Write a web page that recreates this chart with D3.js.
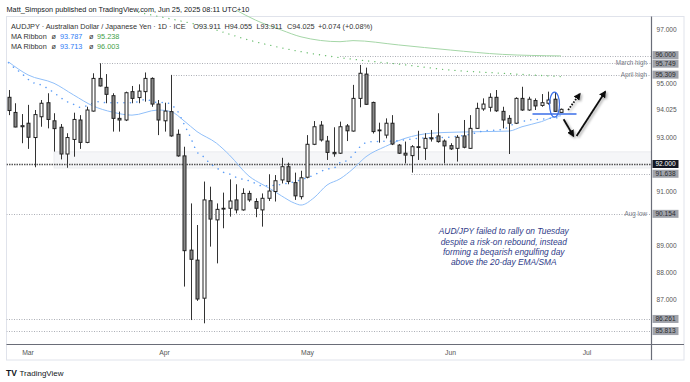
<!DOCTYPE html>
<html><head><meta charset="utf-8">
<script src="https://cdn.jsdelivr.net/npm/d3@7"></script>
<style>html,body{margin:0;padding:0;background:#fff;} svg{display:block;font-family:"Liberation Sans",Arial,sans-serif;}</style>
</head><body><svg id="c" width="690" height="382"></svg>
<script>
// ---------- DATA ----------
const dates = ["2025-02-26","2025-02-27","2025-02-28",
"2025-03-03","2025-03-04","2025-03-05","2025-03-06","2025-03-07","2025-03-10","2025-03-11","2025-03-12","2025-03-13","2025-03-14","2025-03-17","2025-03-18","2025-03-19","2025-03-20","2025-03-21","2025-03-24","2025-03-25","2025-03-26","2025-03-27","2025-03-28","2025-03-31",
"2025-04-01","2025-04-02","2025-04-03","2025-04-04","2025-04-07","2025-04-08","2025-04-09","2025-04-10","2025-04-11","2025-04-14","2025-04-15","2025-04-16","2025-04-17","2025-04-18","2025-04-21","2025-04-22","2025-04-23","2025-04-24","2025-04-25","2025-04-28","2025-04-29","2025-04-30",
"2025-05-01","2025-05-02","2025-05-05","2025-05-06","2025-05-07","2025-05-08","2025-05-09","2025-05-12","2025-05-13","2025-05-14","2025-05-15","2025-05-16","2025-05-19","2025-05-20","2025-05-21","2025-05-22","2025-05-23","2025-05-26","2025-05-27","2025-05-28","2025-05-29","2025-05-30",
"2025-06-02","2025-06-03","2025-06-04","2025-06-05","2025-06-06","2025-06-09","2025-06-10","2025-06-11","2025-06-12","2025-06-13","2025-06-16","2025-06-17","2025-06-18","2025-06-19","2025-06-20","2025-06-23","2025-06-24","2025-06-25"];
const open  = [94.47,93.91,93.38, 93.51,92.98,93.75,94.27,93.60,93.36,92.37,92.91,93.63,92.80,93.96,95.17,94.84,94.53,93.69,93.63,94.68,94.46,94.68,95.17,94.22,
93.60,93.94,93.10,92.30,88.81,88.44,87.03,90.64,89.93,90.36,90.36,90.67,90.30,90.91,90.61,90.30,90.73,90.98,91.41,91.90,91.31,90.79,
91.51,92.73,93.44,92.85,92.43,92.40,93.41,93.22,94.43,95.33,94.28,93.26,93.07,93.51,92.70,92.40,92.31,92.64,92.58,92.97,93.04,92.85,
92.68,92.58,93.04,92.58,93.32,94.04,94.10,94.47,93.95,93.69,93.51,94.43,94.00,94.35,94.17,94.25,94.40,93.911];
const high  = [94.74,94.25,93.85, 94.19,94.00,94.37,94.62,93.88,93.48,93.14,93.90,93.81,94.12,95.36,95.73,95.33,94.62,93.94,94.68,94.89,94.95,95.39,95.21,94.37,
94.27,95.30,93.28,92.64,90.54,89.74,91.35,91.16,90.54,90.94,91.43,91.25,91.10,91.01,90.73,90.91,91.62,91.59,92.23,92.05,91.68,91.75,
93.07,93.59,93.59,93.04,93.36,93.57,93.48,94.93,95.67,95.57,94.31,93.53,93.69,93.81,92.74,92.83,92.70,93.23,93.14,93.26,93.88,92.91,
92.77,93.07,93.63,93.81,94.27,94.43,94.62,94.74,94.12,93.81,94.47,94.86,94.49,94.43,94.59,94.68,94.64,94.055];
const low   = [93.81,93.36,92.77, 92.56,91.88,93.38,93.32,92.46,92.17,91.86,92.27,92.56,92.77,93.94,94.87,94.25,93.20,93.20,93.59,94.25,94.25,94.31,94.12,93.07,
93.20,93.01,92.27,87.46,86.22,86.93,86.10,88.94,88.32,89.62,90.05,90.17,90.27,90.60,90.03,89.68,90.63,90.61,91.28,91.25,90.67,90.69,
91.47,92.70,92.83,92.15,92.27,92.37,92.85,93.20,94.10,94.19,93.13,92.79,92.95,92.70,92.37,92.02,91.68,92.15,92.15,92.83,92.79,92.02,
92.52,92.09,92.58,92.56,93.30,93.97,93.94,93.93,93.32,92.37,93.48,93.97,93.97,94.00,94.12,94.20,93.93,93.911];
const close = [93.98,93.37,93.42, 92.99,93.83,94.25,93.65,93.31,92.37,92.98,93.65,92.80,94.00,95.17,94.89,94.58,93.69,93.63,94.64,94.43,94.70,95.17,94.22,93.63,
93.96,93.04,92.30,88.79,88.47,87.00,90.67,89.96,90.32,90.33,90.63,90.30,90.91,90.67,90.36,90.73,91.00,91.38,91.90,91.35,90.82,91.49,
92.73,93.38,92.89,92.43,92.38,93.38,93.23,94.43,95.36,94.21,93.20,93.23,93.51,92.74,92.40,92.33,92.64,92.62,92.95,92.93,92.83,92.67,
92.56,92.99,92.62,93.32,94.06,94.22,94.47,93.97,93.63,93.51,94.43,94.00,94.40,94.15,94.27,94.37,93.95,94.025];

// MA Ribbon 1 (fast, solid light blue) and its slow line (dotted green)
const ribbon1FastDates = ["2025-02-26","2025-03-03","2025-03-07","2025-03-12","2025-03-17","2025-03-20","2025-03-25","2025-03-31","2025-04-02","2025-04-04","2025-04-08","2025-04-11","2025-04-15","2025-04-18","2025-04-22","2025-04-23","2025-04-25","2025-04-29","2025-04-30","2025-05-02","2025-05-06","2025-05-08","2025-05-12","2025-05-14","2025-05-19","2025-05-22","2025-05-28","2025-06-03","2025-06-09","2025-06-13","2025-06-17","2025-06-20","2025-06-24","2025-06-25"];
const ribbon1FastValues = [95.78,95.30,94.99,94.56,94.15,93.92,93.81,94.00,93.94,93.60,93.20,92.77,92.33,91.55,91.25,91.12,90.82,90.55,90.48,90.75,91.22,91.45,91.82,92.27,92.65,92.95,93.14,93.18,93.20,93.22,93.38,93.57,93.75,93.787];
const ribbon1SlowDates = ["2025-03-26","2025-03-28","2025-04-09","2025-04-18","2025-04-30","2025-05-12","2025-05-21","2025-06-02","2025-06-12","2025-06-25"];
const ribbon1SlowValues = [97.62,97.52,97.10,96.59,96.16,95.88,95.70,95.48,95.36,95.238];
// MA Ribbon 2 (fast, dotted blue) and its slow line (solid light green)
const ribbon2FastDates = ["2025-02-26","2025-02-27","2025-02-28","2025-03-03","2025-03-04","2025-03-05","2025-03-06","2025-03-07","2025-03-10","2025-03-11","2025-03-12","2025-03-13","2025-03-18","2025-03-19","2025-03-25","2025-03-26","2025-03-27","2025-03-31","2025-04-01","2025-04-03","2025-04-04","2025-04-07","2025-04-08","2025-04-09","2025-04-10","2025-04-11","2025-04-14","2025-04-15","2025-04-16","2025-04-17","2025-04-18","2025-04-21","2025-04-22","2025-05-02","2025-05-05","2025-05-06","2025-05-07","2025-05-08","2025-05-09","2025-05-12","2025-05-13","2025-05-14","2025-05-15","2025-05-20","2025-05-26","2025-06-02","2025-06-05","2025-06-09","2025-06-12","2025-06-16","2025-06-17","2025-06-18","2025-06-20","2025-06-23","2025-06-25"];
const ribbon2FastValues = [95.75,95.54,95.36,95.14,94.99,94.93,94.80,94.64,94.46,94.31,94.21,94.10,94.31,94.27,94.27,94.31,94.39,94.28,94.28,93.96,93.48,92.99,92.45,92.27,92.02,91.86,91.70,91.63,91.51,91.44,91.38,91.28,91.19,91.59,91.72,91.81,91.84,92.05,92.12,92.33,92.62,92.79,92.83,92.85,92.95,93.00,93.10,93.22,93.28,93.51,93.57,93.63,93.66,93.69,93.713];
const ribbon2SlowDates = ["2025-04-16","2025-04-21","2025-04-25","2025-04-30","2025-05-08","2025-05-12","2025-05-21","2025-06-02","2025-06-12","2025-06-25"];
const ribbon2SlowValues = [97.70,97.33,96.96,96.71,96.53,96.57,96.41,96.22,96.06,96.003];

// Horizontal levels
const levelValues = [96.000,95.749,95.309,92.000,91.638,90.154,86.261,85.813];
const levelStartDates = ["2025-05-08","2025-03-18","2025-04-02",null,"2025-05-23",null,null,null];
const levelNames = ["","March high","April high","","","Aug low","",""];
const zoneTop = 92.45, zoneBottom = 91.85, zoneStartDate = "2025-03-07";

const priceTicks = [86,87,88,89,90,91,92,93,94,95,96,97];
const monthTickDates = ["2025-03-03","2025-04-01","2025-05-01","2025-06-02","2025-07-01"];
const monthTickLabels = ["Mar","Apr","May","Jun","Jul"];

const lastPrice = 94.025;
const noteLines = ["AUD/JPY failed to rally on Tuesday","despite a risk-on rebound, instead","forming a beqarish engulfing day","above the 20-day EMA/SMA"];

// ---------- SCALES ----------
const svg = d3.select("#c");
const parse = d3.timeParse("%Y-%m-%d");
const d0 = parse(dates[0]);
function tradingIndex(s){
  const d = parse(s);
  return d3.timeDay.range(d0, d).filter(t => t.getDay()!==0 && t.getDay()!==6).length;
}
const xi = d3.scaleLinear().domain([0, dates.length-1]).range([8.5, 561]);
const x = s => xi(tradingIndex(s));
const y = d3.scaleLinear().domain([86, 97]).range([326, 29]);

const plotL = 6.5, plotR = 651.5, plotT = 16.5, plotB = 344.5;

svg.append("defs").html(`
  <clipPath id="clip"><rect x="${plotL}" y="10" width="${plotR-plotL}" height="${plotB-10}"/></clipPath>
  <filter id="sh" x="-50%" y="-50%" width="200%" height="200%"><feDropShadow dx="1.5" dy="1.5" stdDeviation="1" flood-color="#000" flood-opacity="0.35"/></filter>
  <marker id="ah" viewBox="0 0 10 10" refX="8" refY="5" markerWidth="4" markerHeight="4" orient="auto-start-reverse"><path d="M0,0 L10,5 L0,10 z" fill="#111"/></marker>
`);

// frame
svg.append("rect").attr("x",plotL).attr("y",plotT).attr("width",684-plotL).attr("height",360-plotT)
  .attr("fill","none").attr("stroke","#e0e3eb");

const g = svg.append("g").attr("clip-path","url(#clip)");

// zone
g.append("rect").attr("x", x(zoneStartDate)).attr("y", y(zoneTop))
  .attr("width", plotR - x(zoneStartDate)).attr("height", y(zoneBottom)-y(zoneTop))
  .attr("fill","#f5f6f8").attr("stroke","#e6e8ec").attr("stroke-width",0.8);

// level lines
levelValues.forEach((v,i)=>{
  const x0 = levelStartDates[i] ? x(levelStartDates[i]) : plotL;
  const strong = v===92.000;
  g.append("line").attr("x1",x0).attr("x2",plotR).attr("y1",Math.round(y(v))+0.5).attr("y2",Math.round(y(v))+0.5)
    .attr("stroke", strong ? "#555" : "#a3a6ae").attr("stroke-width", strong?1.4:0.9)
    .attr("stroke-dasharray", strong ? "1.5,1" : "1,1.5");
  if(levelNames[i]){
    svg.append("text").attr("x",647).attr("y",y(v)+2.3).attr("text-anchor","end")
      .attr("font-size",6.3).attr("fill","#787b86").text(levelNames[i]);
  }
});

// MAs
const lineGen = (ds, vs) => d3.line().curve(d3.curveMonotoneX)(ds.map((d,i)=>[x(d), y(vs[i])]));
g.append("path").attr("d", lineGen(ribbon2SlowDates, ribbon2SlowValues)).attr("fill","none").attr("stroke","#a5d6a7").attr("stroke-width",1);
g.append("path").attr("d", lineGen(ribbon1SlowDates, ribbon1SlowValues)).attr("fill","none").attr("stroke","#66bb6a")
  .attr("stroke-width",1.3).attr("stroke-dasharray","0.1,6.1").attr("stroke-linecap","round");
g.append("path").attr("d", lineGen(ribbon1FastDates, ribbon1FastValues)).attr("fill","none").attr("stroke","#90bff9").attr("stroke-width",1);
g.append("path").attr("d", lineGen(ribbon2FastDates, ribbon2FastValues)).attr("fill","none").attr("stroke","#5b9cf6")
  .attr("stroke-width",1.5).attr("stroke-dasharray","0.1,6.4").attr("stroke-linecap","round");

// candles
const bars = dates.map((d,i)=>({d, o:open[i], h:high[i], l:low[i], c:close[i]}));
const cg = g.append("g");
cg.selectAll("line.w").data(bars).join("line")
  .attr("x1",b=>Math.round(x(b.d))+0.5).attr("x2",b=>Math.round(x(b.d))+0.5)
  .attr("y1",b=>y(b.h)).attr("y2",b=>y(b.l)).attr("stroke","#333").attr("stroke-width",1);
cg.selectAll("rect.b").data(bars).join("rect")
  .attr("x",b=>Math.round(x(b.d))-1).attr("width",3)
  .attr("y",b=>y(Math.max(b.o,b.c))).attr("height",b=>Math.max(0.8, Math.abs(y(b.o)-y(b.c))))
  .attr("fill",b=>b.c>=b.o ? "#ffffff" : "#8a8a8a").attr("stroke","#222").attr("stroke-width",1);

// annotations around last bars
const eng = "2025-06-24";
svg.append("ellipse").attr("cx",x(eng)).attr("cy",y(94.2)).attr("rx",5).attr("ry",12.5)
  .attr("fill","none").attr("stroke","#3a6ee8").attr("stroke-width",1.2);
svg.append("line").attr("x1",x(eng)-22).attr("x2",x(eng)+22).attr("y1",y(93.85)).attr("y2",y(93.85))
  .attr("stroke","#3a6ee8").attr("stroke-width",1.6);
const arrows = [
  {p0:[86.1,94.0], p1:[87.9,94.6], dash:"1.6,1.4"},
  {p0:[85.4,93.66], p1:[86.9,93.04], dash:null},
  {p0:[87.4,93.04], p1:[91.8,94.68], dash:null}
];
arrows.forEach(a=>{
  svg.append("line").attr("x1",xi(a.p0[0])).attr("y1",y(a.p0[1])).attr("x2",xi(a.p1[0])).attr("y2",y(a.p1[1]))
    .attr("stroke","#111").attr("stroke-width",1.8).attr("stroke-dasharray",a.dash)
    .attr("marker-end","url(#ah)").attr("filter","url(#sh)");
});

// note text
const noteG = svg.append("g").attr("font-style","italic").attr("font-size",8.4).attr("fill","#2e3a87").attr("text-anchor","middle");
noteLines.forEach((t,i)=>noteG.append("text").attr("x",xi(76.2)).attr("y",y(89.4) + i*10.3).text(t));

// axes lines
svg.append("line").attr("x1",plotR).attr("x2",plotR).attr("y1",plotT).attr("y2",360).attr("stroke","#6a6d78").attr("stroke-width",1.2);
svg.append("line").attr("x1",plotL).attr("x2",684).attr("y1",plotB).attr("y2",plotB).attr("stroke","#6a6d78").attr("stroke-width",1.2);

// right axis ticks (skip ones hidden behind labels)
const occupied = levelValues.concat([lastPrice]).map(v=>y(v));
const visibleTicks = priceTicks.filter(t => occupied.every(o => Math.abs(o - y(t)) > 7));
const ax = svg.append("g").attr("transform",`translate(${plotR},0)`)
  .call(d3.axisRight(y).tickValues(visibleTicks).tickFormat(d3.format(".3f")).tickSize(0).tickPadding(5));
ax.select(".domain").remove();
ax.selectAll("text").attr("font-size",6.6).attr("fill","#555").attr("font-family","Liberation Sans, Arial, sans-serif");

// last price label
svg.append("text").attr("x",656.5).attr("y",y(lastPrice)+2.3).attr("font-size",6.6).attr("fill","#555").text(d3.format(".3f")(lastPrice));

// level boxes with collision nudge
const boxes = levelValues.map(v=>({v, cy:y(v)})).sort((a,b)=>a.cy-b.cy);
for(let i=1;i<boxes.length;i++){
  const gap = boxes[i].cy - boxes[i-1].cy;
  if(gap < 8.6){ const d=(8.6-gap)/2; boxes[i-1].cy -= d; boxes[i].cy += d; }
}
boxes.forEach(b=>{
  const dark = b.v===92.000;
  svg.append("rect").attr("x",652.5).attr("y",b.cy-4).attr("width",26).attr("height",8)
    .attr("fill", dark ? "#131722" : "#a0a3ab");
  svg.append("text").attr("x",665.5).attr("y",b.cy+2.3).attr("text-anchor","middle").attr("font-size",6.6)
    .attr("fill", dark ? "#fff" : "#2b2b2b").text(d3.format(".3f")(b.v));
});

// time axis labels
monthTickDates.forEach((d,i)=>{
  svg.append("text").attr("x",x(d)).attr("y",354.5).attr("text-anchor","middle").attr("font-size",6.8)
    .attr("fill","#555").text(monthTickLabels[i]);
});

// header & legend
svg.append("text").attr("x",6.5).attr("y",12).attr("font-size",7.3).attr("fill","#131722")
  .text("Matt_Simpson published on TradingView.com, Jun 25, 2025 08:11 UTC+10");
const lg = svg.append("g").attr("font-size",7.3).attr("fill","#333");
lg.append("text").attr("x",11).attr("y",29).text("AUDJPY · Australian Dollar / Japanese Yen · 1D · ICE");
[["O93.911",193.3],["H94.055",224.5],["L93.911",256.5],["C94.025",287],["+0.074 (+0.08%)",318]].forEach(([t,xx])=>
  lg.append("text").attr("x",xx).attr("y",29).text(t));
[[39,"93.787","95.238"],[49,"93.713","96.003"]].forEach(([yy,a,b])=>{
  lg.append("text").attr("x",11).attr("y",yy).text("MA Ribbon");
  lg.append("text").attr("x",51.5).attr("y",yy).text("ø");
  lg.append("text").attr("x",60).attr("y",yy).attr("fill","#2f7cf6").text(a);
  lg.append("text").attr("x",89).attr("y",yy).text("ø");
  lg.append("text").attr("x",97).attr("y",yy).attr("fill","#43a047").text(b);
});

// footer logo
svg.append("text").attr("x",6).attr("y",375.5).attr("font-size",8.5).attr("font-weight","bold").attr("fill","#131722").text("TV");
svg.append("text").attr("x",19.5).attr("y",375.5).attr("font-size",8).attr("fill","#131722").text("TradingView");
</script></body></html>
